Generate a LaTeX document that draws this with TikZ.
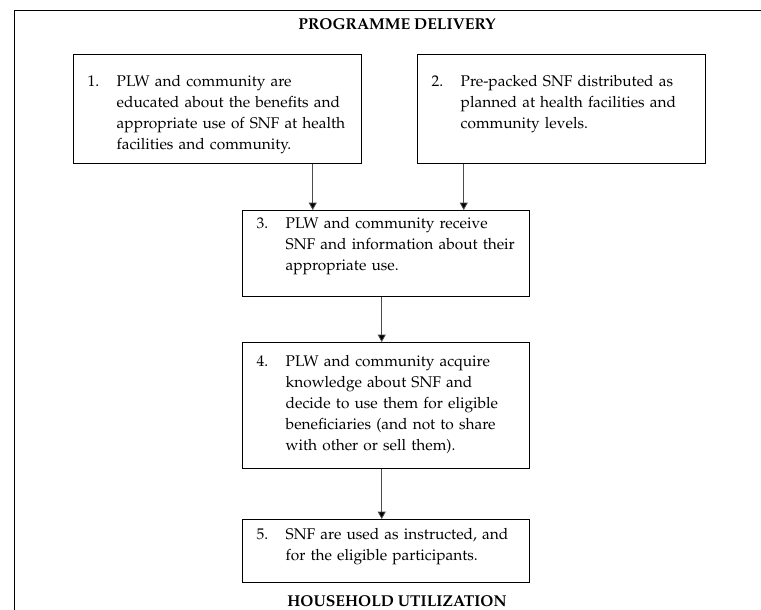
\documentclass[tikz,border=0pt]{standalone}
\usepackage[T1]{fontenc}
\usepackage{mathpazo}
\usetikzlibrary{arrows.meta}

% number column + text column of a stage box
\newcommand{\stagelines}[1]{\begin{tabular}[t]{@{}p{21.75pt}@{}l@{}}#1\end{tabular}}

\begin{document}
\begin{tikzpicture}[x=.75pt,y=.75pt,
  stage/.style={draw,line width=1.1pt,anchor=north west,inner xsep=10.5pt,inner ysep=0pt,
    font=\fontsize{11.6}{15.75}\selectfont},
  flow/.style={line width=.6pt,black!70,-{Triangle[width=6pt,length=5.5pt,fill=black]}},
  heading/.style={font=\fontsize{11.8}{13}\selectfont\bfseries,anchor=base,inner sep=0pt}]
  \useasboundingbox (0,0) rectangle (761,610);
  \draw[line width=.75pt] (14,0) -- (14,599) -- (761,599);
  \node[heading] (delivery) at (397,580) {PROGRAMME DELIVERY};
  \node[heading] (household) at (397,3.5) {HOUSEHOLD UTILIZATION};
  % top row
  \node[stage,text width=195pt,text height=24pt,text depth=57.75pt] (b1) at (73,556)
    {\stagelines{1. & PLW and community are\\ & educated about the benefits and\\ & appropriate use of SNF at health\\ & facilities and community.}};
  \node[stage,text width=195pt,text height=24pt,text depth=57.75pt] (b2) at (417,556)
    {\stagelines{2. & Pre-packed SNF distributed as\\ & planned at health facilities and\\ & community levels.}};
  % middle column
  \node[stage,text width=193.9pt,text height=13pt,text depth=51.5pt] (b3) at (242,400)
    {\stagelines{3. & PLW and community receive\\ & SNF and information about their\\ & appropriate use.}};
  \node[stage,text width=193.9pt,text height=18pt,text depth=76.5pt] (b4) at (242,268)
    {\stagelines{4. & PLW and community acquire\\ & knowledge about SNF and\\ & decide to use them for eligible\\ & beneficiaries (and not to share\\ & with other or sell them).}};
  \node[stage,text width=193.9pt,text height=14.5pt,text depth=32.75pt] (b5) at (242,91)
    {\stagelines{5. & SNF are used as instructed, and\\ & for the eligible participants.}};
  \draw[flow] ([xshift=71.25pt]b1.south) coordinate (s1) -- (s1 |- b3.north);
  \draw[flow] ([xshift=-73.5pt]b2.south) coordinate (s2) -- (s2 |- b3.north);
  \draw[flow] ([xshift=-3.2pt]b3.south) coordinate (s3) -- (s3 |- b4.north);
  \draw[flow] ([xshift=-3.2pt]b4.south) coordinate (s4) -- (s4 |- b5.north);
\end{tikzpicture}
\end{document}
